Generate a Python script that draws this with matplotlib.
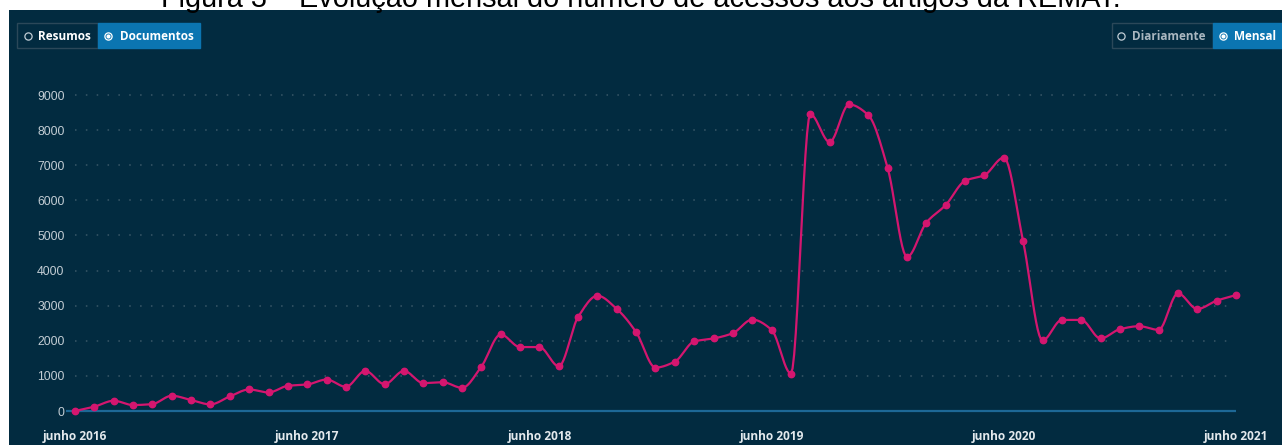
import numpy as np
import matplotlib
matplotlib.use("Agg")
import matplotlib.pyplot as plt
from matplotlib.patches import Rectangle
from matplotlib.lines import Line2D

# monthly accesses, june 2016 .. june 2021
acessos = [0, 123, 292, 170, 198, 434, 311, 189, 415, 613, 528, 717,
           755, 896, 689, 1142, 764, 1142, 795, 821, 660, 1264, 2179, 1821,
           1821, 1274, 2679, 3283, 2906, 2245, 1236, 1406, 1981, 2066, 2217, 2604,
           2311, 1066, 8453, 7660, 8730, 8425, 6915, 4387, 5368, 5868, 6557, 6717,
           7217, 4830, 2009, 2594, 2594, 2066, 2330, 2415, 2311, 3349, 2906, 3142,
           3302]
x_labels = ["junho 2016", "junho 2017", "junho 2018", "junho 2019", "junho 2020", "junho 2021"]
x_label_pos = [0, 12, 24, 36, 48, 60]
y_ticks = [0, 1000, 2000, 3000, 4000, 5000, 6000, 7000, 8000, 9000]

W, H = 1282, 445
BG = "#022b40"
PINK = "#d4166f"
BLUE = "#0b75b1"


def monotone(x, y, n=12):
    # monotone cubic (like d3 curveMonotoneX), only for drawing the line
    x = np.asarray(x, float)
    y = np.asarray(y, float)
    h = np.diff(x)
    d = np.diff(y) / h
    m = np.zeros_like(y)
    m[0], m[-1] = d[0], d[-1]
    for i in range(1, len(y) - 1):
        if d[i - 1] * d[i] <= 0:
            m[i] = 0
        else:
            m[i] = 3 * (h[i - 1] + h[i]) / ((2 * h[i] + h[i - 1]) / d[i - 1] + (h[i] + 2 * h[i - 1]) / d[i])
    xs, ys = [], []
    for i in range(len(h)):
        t = np.linspace(0, 1, n, endpoint=False)
        h00 = 2 * t**3 - 3 * t**2 + 1
        h10 = t**3 - 2 * t**2 + t
        h01 = -2 * t**3 + 3 * t**2
        h11 = t**3 - t**2
        xs.append(x[i] + t * h[i])
        ys.append(h00 * y[i] + h10 * h[i] * m[i] + h01 * y[i + 1] + h11 * h[i] * m[i + 1])
    xs.append([x[-1]])
    ys.append([y[-1]])
    return np.concatenate(xs), np.concatenate(ys)


fig = plt.figure(figsize=(W / 100, H / 100), dpi=100)
fig.patch.set_facecolor("white")


def px(x0, y0, w, h):
    # pixel box (top-left origin) -> figure fraction
    return (x0 / W, 1 - (y0 + h) / H, w / W, h / H)


# dark panel
fig.patches.append(Rectangle((9 / W, 0), 1 - 9 / W, 1 - 10 / H, transform=fig.transFigure,
                             facecolor=BG, edgecolor="none", zorder=-5))

fig.text(641 / W, 1 - 7 / H, "Figura 3 – Evolução mensal do número de acessos aos artigos da REMAT.",
         ha="center", va="baseline", fontsize=20.8, family="Liberation Sans", color="black")

# toggle buttons
def button(x0, x1, y0, y1, label, active, icon_x, text_x, color):
    b = px(x0, y0, x1 - x0, y1 - y0)
    fig.patches.append(Rectangle((b[0], b[1]), b[2], b[3], transform=fig.transFigure,
                                 facecolor=BLUE if active else BG, edgecolor="#2b4859" if not active else BLUE,
                                 lw=1, zorder=1))
    yc = 1 - ((y0 + y1) / 2 + 0.5) / H
    ring = "white" if active else "#c0ccd4"
    fig.add_artist(Line2D([icon_x / W], [yc], marker="o", ms=5.2, mfc="none", mec=ring,
                          mew=0.9, ls="none", zorder=2))
    if active:
        fig.add_artist(Line2D([icon_x / W], [yc], marker="o", ms=3.0, mfc="white", mec="none",
                              ls="none", zorder=2))
    fig.text(text_x / W, yc, label, ha="left", va="center", fontsize=8.5, fontweight="bold",
             family="Open Sans", color=color, zorder=2)


button(17, 98, 23, 48, "Resumos", False, 27.5, 38, "white")
button(98, 200, 23, 48, "Documentos", True, 108, 120, "white")
button(1112, 1213, 23, 48, "Diariamente", False, 1121, 1132, "#a9b7c0")
button(1213, 1282, 23, 48, "Mensal", True, 1223, 1234, "white")

# chart area: index 0 -> px 75, index 60 -> px 1236 ; 0 -> py 411, 9000 -> py 95
sx = (1236 - 75) / 60
sy = (411 - 95) / 9000
ax_l, ax_r, ax_t, ax_b = 66, 1250, 80, 420
ax = fig.add_axes(px(ax_l, ax_t, ax_r - ax_l, ax_b - ax_t))
ax.set_zorder(5)
ax.set_facecolor("none")
ax.set_xlim((ax_l - 75) / sx, (ax_r - 75) / sx)
ax.set_ylim(-(ax_b - 411) / sy, (411 - ax_t) / sy)
for s in ax.spines.values():
    s.set_visible(False)

# dotted grid
for v in y_ticks[1:]:
    ax.plot([0, 59.8], [v, v], color="#3a5868", lw=1.1, ls=(0, (1, 6.1)), zorder=1)
ax.plot([(ax_l - 75) / sx, 60], [0, 0], color="#1d6896", lw=1.6, zorder=2, solid_capstyle="butt")

months = np.arange(len(acessos))
xs, ys = monotone(months, acessos)
ax.plot(xs, ys, color=PINK, lw=1.6, zorder=3)
ax.plot(months, acessos, ls="none", marker="o", ms=4.6, color=PINK, zorder=4)

ax.set_yticks(y_ticks)
ax.set_yticklabels([str(v) for v in y_ticks], family="Liberation Sans", fontsize=8.8, color="#c3cdd4")
ax.tick_params(axis="y", length=0, pad=1)
ax.set_xticks(x_label_pos)
ax.set_xticklabels(x_labels, family="Open Sans", fontweight="bold", fontsize=8.6, color="#e3e9ed")
ax.tick_params(axis="x", length=0, pad=7)

fig.savefig("out.png", dpi=100, facecolor="white")
